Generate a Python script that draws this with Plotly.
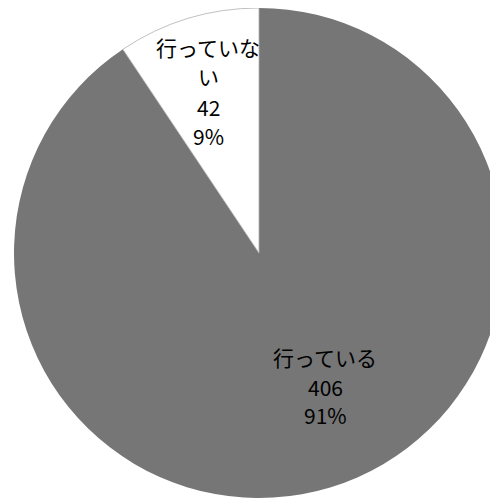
import plotly.graph_objects as go

labels = ["行っている", "行っていない"]
values = [406, 42]
colors = ["#767676", "#ffffff"]

# page body has an 8px offset; positions below are in figure coordinates
W, H = 500, 503
cx, cy, r = 251, 245, 245

total = sum(values)
pcts = [f"{round(v / total * 100)}%" for v in values]

fig = go.Figure(go.Pie(
    labels=labels,
    values=values,
    sort=False,
    direction="clockwise",
    rotation=0,
    marker=dict(colors=colors, line=dict(width=[0, 0.8], color=["#767676", "#b0b0b0"])),
    textinfo="none",
    hoverinfo="label+value+percent",
    showlegend=False,
    domain=dict(x=[(cx - r) / W, (cx + r) / W],
                y=[(H - cy - r) / H, (H - cy + r) / H]),
))

font = dict(family="Noto Sans CJK JP, sans-serif", size=21, color="#000000")

def add_lines(lines, x, ys):
    for t, y in zip(lines, ys):
        fig.add_annotation(text=t, x=(x - 8) / W, y=1 - (y - 8) / H, xref="paper", yref="paper",
                           showarrow=False, font=font, xanchor="center", yanchor="middle")

# white slice label (wrapped)
add_lines([labels[1][:5], labels[1][5:], str(values[1]), pcts[1]], 208, [47, 76, 107, 136])
# gray slice label
add_lines([labels[0], str(values[0]), pcts[0]], 325, [357, 387, 415])

fig.update_layout(width=W, height=H, margin=dict(l=0, r=0, t=0, b=0),
                  paper_bgcolor="white", plot_bgcolor="white")

fig.write_html("out.html")
